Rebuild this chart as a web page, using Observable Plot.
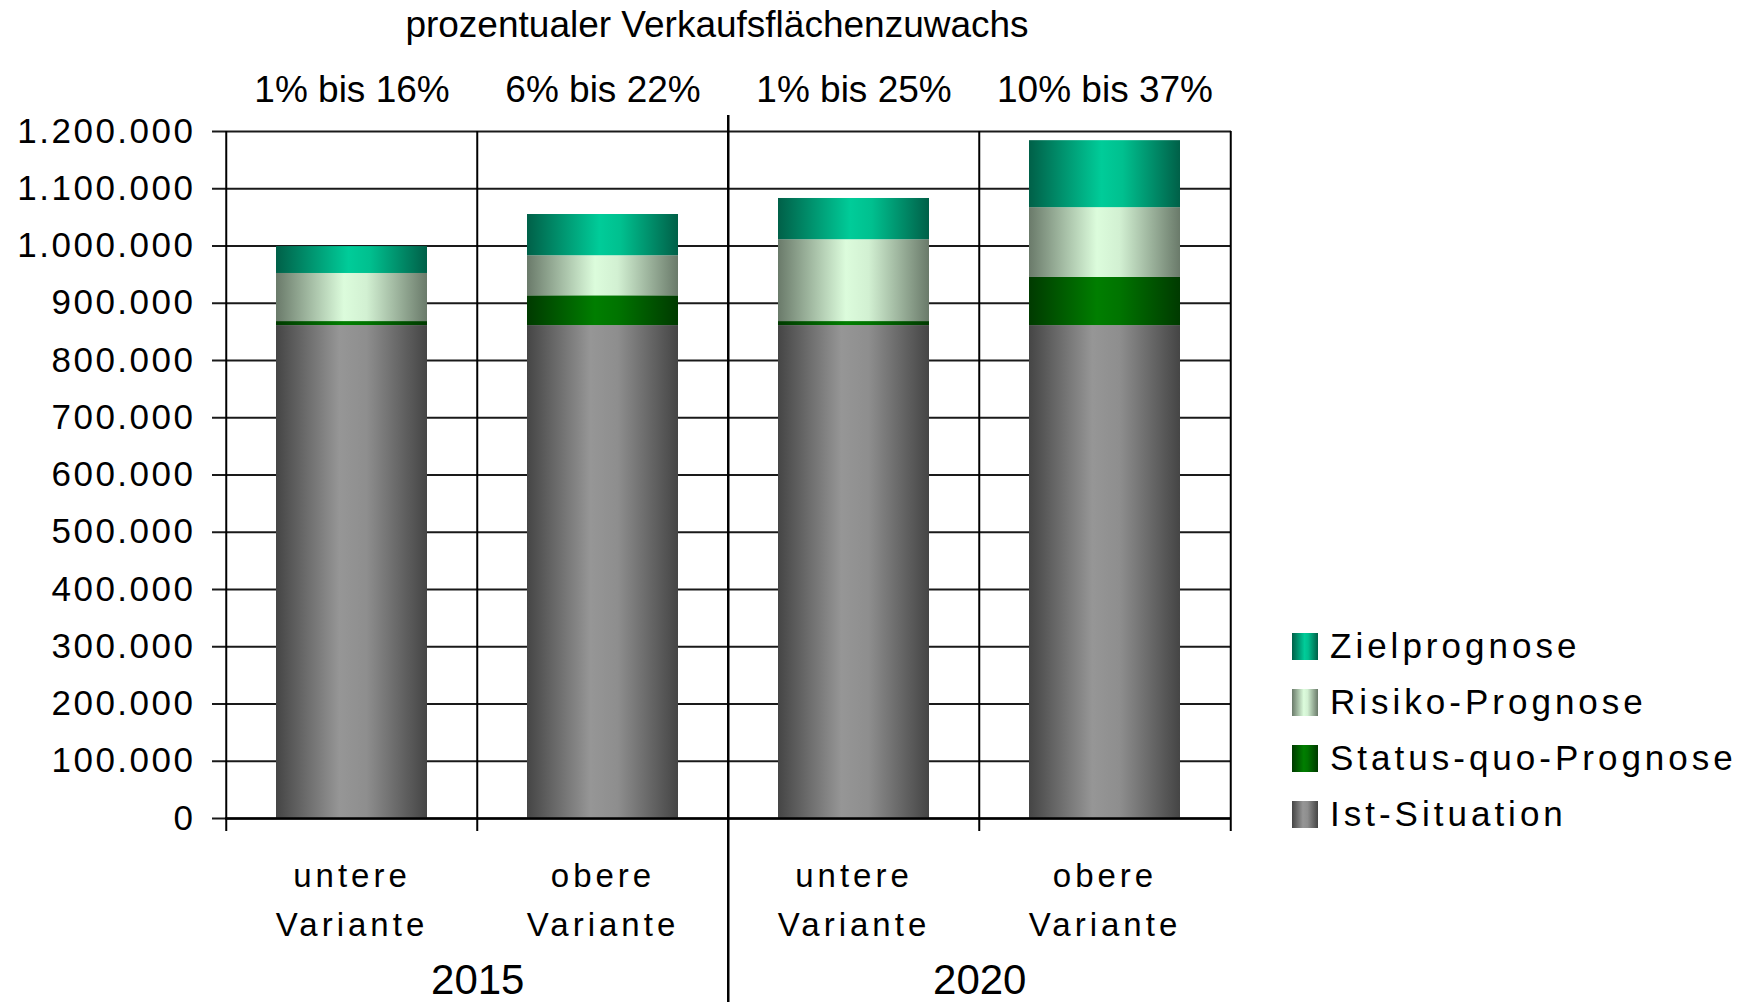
<!DOCTYPE html>
<html>
<head>
<meta charset="utf-8">
<script src="https://cdn.jsdelivr.net/npm/d3@7"></script>
<script src="https://cdn.jsdelivr.net/npm/@observablehq/plot@0.6"></script>
<style>
  html, body { margin: 0; padding: 0; background: #fff; }
  #wrap { position: relative; width: 1756px; height: 1005px; font-family: "Liberation Sans", Arial, sans-serif; color: #000; }
  #title { position: absolute; left: 0; width: 1434px; top: 3px; text-align: center; font-size: 37px; line-height: 44px; }
  #legend { position: absolute; left: 1292px; top: 618px; }
  .lg-row { display: flex; align-items: center; height: 56px; }
  .lg-sw { width: 26px; height: 27px; margin-right: 12px; }
  .lg-tx { font-size: 35px; letter-spacing: 4px; }
</style>
</head>
<body>
<svg width="0" height="0" style="position:absolute">
  <defs>
    <linearGradient id="gIst" x1="0" x2="1" y1="0" y2="0">
      <stop offset="0" stop-color="#454545"/><stop offset="0.42" stop-color="#969696"/><stop offset="0.6" stop-color="#8e8e8e"/><stop offset="1" stop-color="#454545"/>
    </linearGradient>
    <linearGradient id="gStatus" x1="0" x2="1" y1="0" y2="0">
      <stop offset="0" stop-color="#003a00"/><stop offset="0.45" stop-color="#007e00"/><stop offset="0.6" stop-color="#007400"/><stop offset="1" stop-color="#003a00"/>
    </linearGradient>
    <linearGradient id="gRisiko" x1="0" x2="1" y1="0" y2="0">
      <stop offset="0" stop-color="#6a7a6a"/><stop offset="0.45" stop-color="#dcfcdc"/><stop offset="0.6" stop-color="#d2f0d2"/><stop offset="1" stop-color="#6a7a6a"/>
    </linearGradient>
    <linearGradient id="gZiel" x1="0" x2="1" y1="0" y2="0">
      <stop offset="0" stop-color="#006048"/><stop offset="0.48" stop-color="#00cc99"/><stop offset="0.62" stop-color="#00c08f"/><stop offset="1" stop-color="#006048"/>
    </linearGradient>
  </defs>
</svg>
<div id="wrap">
  <div id="chart"></div>
  <div id="title">prozentualer Verkaufsflächenzuwachs</div>
  <div id="legend"></div>
</div>
<script>
// ---- data ----
const categories = ["2015|untere", "2015|obere", "2020|untere", "2020|obere"];
const categoryLabels = ["untere\nVariante", "obere\nVariante", "untere\nVariante", "obere\nVariante"];
const years = ["2015", "2020"];
const yearFirstCategory = ["2015|untere", "2020|untere"];
const rangeLabels = ["1% bis 16%", "6% bis 22%", "1% bis 25%", "10% bis 37%"];
const seriesNames = ["Ist-Situation", "Status-quo-Prognose", "Risiko-Prognose", "Zielprognose"];
const istValues = [861000, 861000, 861000, 861000];
const statusQuoValues = [7000, 52000, 7000, 84000];
const risikoValues = [84000, 70000, 143000, 122000];
const zielValues = [47000, 72000, 72000, 117000];
const yTicks = [0, 100000, 200000, 300000, 400000, 500000, 600000, 700000, 800000, 900000, 1000000, 1100000, 1200000];
const legendOrder = ["Zielprognose", "Risiko-Prognose", "Status-quo-Prognose", "Ist-Situation"];

// ---- build ----
const seriesValues = [istValues, statusQuoValues, risikoValues, zielValues];
const fills = ["url(#gIst)", "url(#gStatus)", "url(#gRisiko)", "url(#gZiel)"];
const cssFills = {
  "Ist-Situation": "linear-gradient(to right,#454545,#969696 42%,#8e8e8e 60%,#454545)",
  "Status-quo-Prognose": "linear-gradient(to right,#003a00,#007e00 45%,#007400 60%,#003a00)",
  "Risiko-Prognose": "linear-gradient(to right,#6a7a6a,#dcfcdc 45%,#d2f0d2 60%,#6a7a6a)",
  "Zielprognose": "linear-gradient(to right,#006048,#00cc99 48%,#00c08f 62%,#006048)"
};
const data = [];
seriesNames.forEach((s, si) => categories.forEach((c, ci) => data.push({cat: c, series: s, value: seriesValues[si][ci]})));
const catData = categories.map((c, i) => ({cat: c, label: categoryLabels[i], range: rangeLabels[i]}));
const yearData = years.map((y, i) => ({year: y, cat: yearFirstCategory[i]}));

const W = 1756, H = 1005, ML = 225, MR = 525, MT = 131, MB = 187;
const halfStep = (W - ML - MR) / categories.length / 2;
const de = d3.formatLocale({decimal: ",", thousands: ".", grouping: [3], currency: ["", " €"]});
const fmt = de.format(",d");
const font = "'Liberation Sans', Arial, sans-serif";

const chart = Plot.plot({
  width: W, height: H,
  marginLeft: ML, marginRight: MR, marginTop: MT, marginBottom: MB,
  style: {fontFamily: font, color: "#000", background: "#fff"},
  x: {domain: categories, paddingInner: 0.4, paddingOuter: 0.2, axis: null},
  y: {domain: [0, 1200000], axis: null},
  color: {type: "ordinal", domain: seriesNames, range: fills},
  marks: [
    Plot.ruleY(yTicks, {stroke: "#1a1a1a", strokeWidth: 2, insetLeft: -13}),
    Plot.axisY({ticks: yTicks, tickFormat: fmt, tickSize: 0, tickPadding: 30, fontSize: 35, label: null}),
    Plot.barY(data, {x: "cat", y: "value", fill: "series", order: seriesNames}),
    // category boundaries (left edge of each category)
    Plot.ruleX(categories.filter(c => c !== "2020|untere"), {y1: 1200000, y2: 0, dx: -halfStep, stroke: "#000", strokeWidth: 2, insetBottom: -13}),
    // right edge
    Plot.ruleX(["2020|obere"], {y1: 1200000, y2: 0, dx: halfStep, stroke: "#000", strokeWidth: 2, insetBottom: -13}),
    // year divider
    Plot.ruleX(["2020|untere"], {y1: 1200000, y2: 0, dx: -halfStep, stroke: "#000", strokeWidth: 2.5, insetTop: -16, insetBottom: -184}),
    Plot.ruleY([0], {stroke: "#000", strokeWidth: 2.5}),
    Plot.text(catData, {x: "cat", text: "range", frameAnchor: "top", dy: -41, lineAnchor: "middle", fontSize: 37}),
    Plot.text(catData, {x: "cat", text: "label", frameAnchor: "bottom", dy: 77, lineAnchor: "middle", lineHeight: 1.48, fontSize: 33}),
    Plot.text(yearData, {x: "cat", text: "year", frameAnchor: "bottom", dx: halfStep, dy: 162, lineAnchor: "middle", fontSize: 42})
  ]
});
document.getElementById("chart").appendChild(chart);
d3.select(chart).selectAll('g[aria-label="y-axis tick label"] text').style("letter-spacing", "2.5px");
d3.select(chart).selectAll("text").filter(function () { return this.textContent.includes("Variante"); })
  .style("letter-spacing", "4px");

// legend
const lg = d3.select("#legend");
legendOrder.forEach(s => {
  const row = lg.append("div").attr("class", "lg-row");
  row.append("div").attr("class", "lg-sw").style("background", cssFills[s]);
  row.append("div").attr("class", "lg-tx").text(s);
});
</script>
</body>
</html>
